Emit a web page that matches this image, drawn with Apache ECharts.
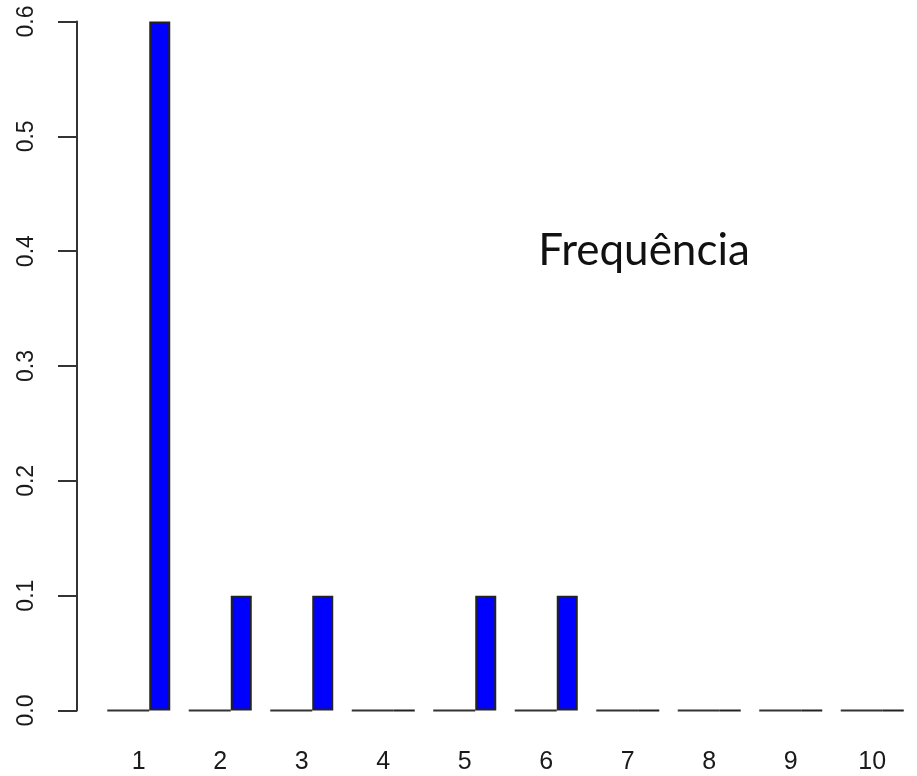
<!DOCTYPE html>
<html>
<head>
<meta charset="utf-8">
<script src="https://cdn.jsdelivr.net/npm/echarts@6/dist/echarts.min.js"></script>
<style>html,body{margin:0;padding:0;background:#fff}#c{width:917px;height:776px}</style>
</head>
<body>
<div id="c"></div>
<script>
var categories = ['1','2','3','4','5','6','7','8','9','10'];
var baseValues = [0,0,0,0,0,0,0,0,0,0];
var freqValues = [0.6,0.1,0.1,0,0.1,0.1,0,0,0,0];
var yTicks = [0,0.1,0.2,0.3,0.4,0.5,0.6];
var titleText = 'Frequência';

var chart = echarts.init(document.getElementById('c'));
chart.setOption({
  animation: false,
  backgroundColor: '#fff',
  grid: { left: 98, right: 4, top: 21.5, bottom: 65.5 },
  xAxis: {
    type: 'category',
    data: categories,
    axisLine: { show: false },
    axisTick: { show: false },
    axisLabel: { fontFamily: 'Liberation Sans, Arial', fontSize: 25, color: '#1a1a1a', margin: 39 }
  },
  yAxis: {
    type: 'value',
    min: yTicks[0],
    max: yTicks[yTicks.length - 1],
    interval: 0.1,
    offset: 21,
    splitLine: { show: false },
    axisLine: { show: true, lineStyle: { color: '#333', width: 2 } },
    axisTick: { show: true, length: 19, lineStyle: { color: '#333', width: 2 } },
    axisLabel: {
      rotate: 90,
      margin: 39,
      fontFamily: 'Liberation Sans, Arial',
      fontSize: 23,
      color: '#1a1a1a',
      formatter: function (v) { return v.toFixed(1); }
    }
  },
  series: [
    {
      type: 'bar',
      data: baseValues,
      barWidth: 42,
      barGap: '0%',
      itemStyle: { color: '#ffffff', borderColor: '#333', borderWidth: 2 },
      silent: true
    },
    {
      type: 'bar',
      data: freqValues,
      barWidth: 21,
      barGap: '0%',
      itemStyle: { color: '#0000ff', borderColor: '#222', borderWidth: 2 },
      silent: true
    }
  ],
  graphic: [
    {
      type: 'text',
      x: 644,
      y: 251,
      style: {
        text: titleText,
        font: '44px Lato',
        fill: '#111',
        align: 'center',
        verticalAlign: 'middle'
      }
    }
  ]
});
</script>
</body>
</html>
